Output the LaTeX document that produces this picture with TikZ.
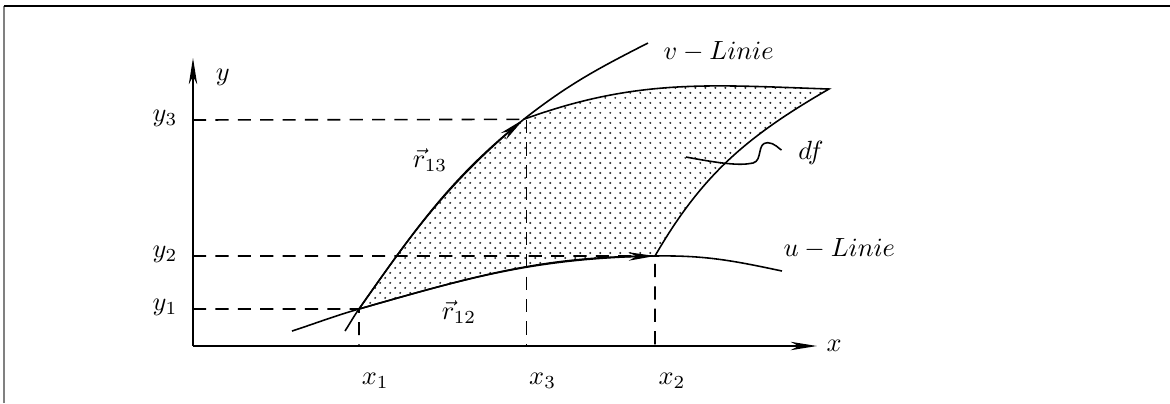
\documentclass[tikz,border=0pt]{standalone}
\usetikzlibrary{arrows.meta,patterns}

% feines, versetztes Punktraster fuer das Flaechenelement
\pgfdeclarepatternformonly{feinpunkte}{\pgfqpoint{-0.6pt}{-0.6pt}}{\pgfqpoint{2.6pt}{2.6pt}}{\pgfqpoint{3.8pt}{3.8pt}}{%
  \pgfpathcircle{\pgfqpoint{0pt}{0pt}}{0.42pt}%
  \pgfpathcircle{\pgfqpoint{1.9pt}{1.9pt}}{0.42pt}%
  \pgfusepath{fill}}

\begin{document}
\begin{tikzpicture}[scale=0.89, line width=0.6pt, every node/.style={font=\normalsize},
    hilfslinie/.style={dash pattern=on 5pt off 3.5pt},
    pfeil/.style={-{Stealth[length=10pt,width=3.2pt,inset=3pt]}}]
    \useasboundingbox (-2.895,-0.855) rectangle (14.655,5.19);

    % Rahmen (angeschnitten)
    \draw[line width=0.4pt, gray] (-2.835,-0.855) -- (-2.835,5.1);
    \draw[line width=0.8pt] (-2.835,5.1) -- (14.655,5.1);

    % Punkte
    \coordinate (P1) at (2.49,0.555);
    \coordinate (P2) at (6.93,1.35);
    \coordinate (P3) at (4.96,3.40);
    \coordinate (P4) at (9.54,3.855);
    \coordinate (A)  at (1.485,0.225); % Anfang u-Linie
    \coordinate (E)  at (8.835,1.125); % Ende u-Linie
    \coordinate (B)  at (2.28,0.225);  % Anfang v-Linie
    \coordinate (F)  at (6.825,4.545); % Ende v-Linie

    % Flaechenelement df
    \fill[pattern=feinpunkte, pattern color=black!85]
        (P1) to[out=55,in=220] (P3) to[out=20,in=178] (P4)
        to[out=210,in=60] (P2) to[out=181,in=16] (P1) -- cycle;
    \draw (P3) to[out=20,in=178] (P4) to[out=210,in=60] (P2);

    % Achsen
    \draw[pfeil] (0,0) -- (9.36,0) node[right] (xlab) {$x$};
    \draw[pfeil] (0,0) -- (0,4.32);
    \node[right] (ylab) at (0.2,4.03) {$y$};

    % Hilfslinien
    \coordinate (X1) at (2.49,0);
    \coordinate (X2) at (6.93,0);
    \coordinate (X3) at (5.0,0);
    \draw[hilfslinie] (0,0.555) -- (P1) -- (X1);
    \draw[hilfslinie] (0,1.35) -- (P2) -- (X2);
    \draw[hilfslinie] (0,3.39) -- (P3);
    \draw[hilfslinie] (X3 |- 0,3.39) -- (X3);

    % Achsbeschriftung
    \node[left] (ly1) at (-0.09,0.585) {$y_1$};
    \node[left] (ly2) at (-0.09,1.37)  {$y_2$};
    \node[left] (ly3) at (-0.09,3.41)  {$y_3$};
    \node[below right] (lx1) at (2.39,-0.27) {$x_1$};
    \node[below right] (lx3) at (4.9,-0.27)  {$x_3$};
    \node[below right] (lx2) at (6.84,-0.27) {$x_2$};

    % u- und v-Linie
    \draw (A) to[out=18,in=196] (P1) to[out=16,in=181] (P2) to[out=1,in=168] (E);
    \draw (B) to[out=57,in=235] (P1) to[out=55,in=220] (P3) to[out=38,in=207] (F);
    \node[right] (ulin) at (8.715,1.455) {$u-Linie$};
    \node[right] (vlin) at (6.915,4.41)  {$v-Linie$};

    % Ortsvektoren
    \draw[pfeil] (P1) to[out=55,in=220] (P3);
    \draw[pfeil] (P1) to[out=16,in=181] (P2);
    \node (r13) at (3.555,2.79) {$\vec r_{13}$};
    \node (r12) at (3.99,0.51)  {$\vec r_{12}$};

    % Bezeichnung df mit Schlaufe
    \node (df) at (9.27,2.895) {$df$};
    \coordinate (dfpt) at (7.395,2.835);
    \draw[shorten >=3pt] (dfpt) .. controls (7.9,2.74) and (8.2,2.7) .. (8.4,2.745)
        .. controls (8.55,2.78) and (8.45,3.05) .. (8.62,3.05)
        .. controls (8.72,3.05) and (8.8,2.95) .. (df.west);
\end{tikzpicture}
\end{document}
